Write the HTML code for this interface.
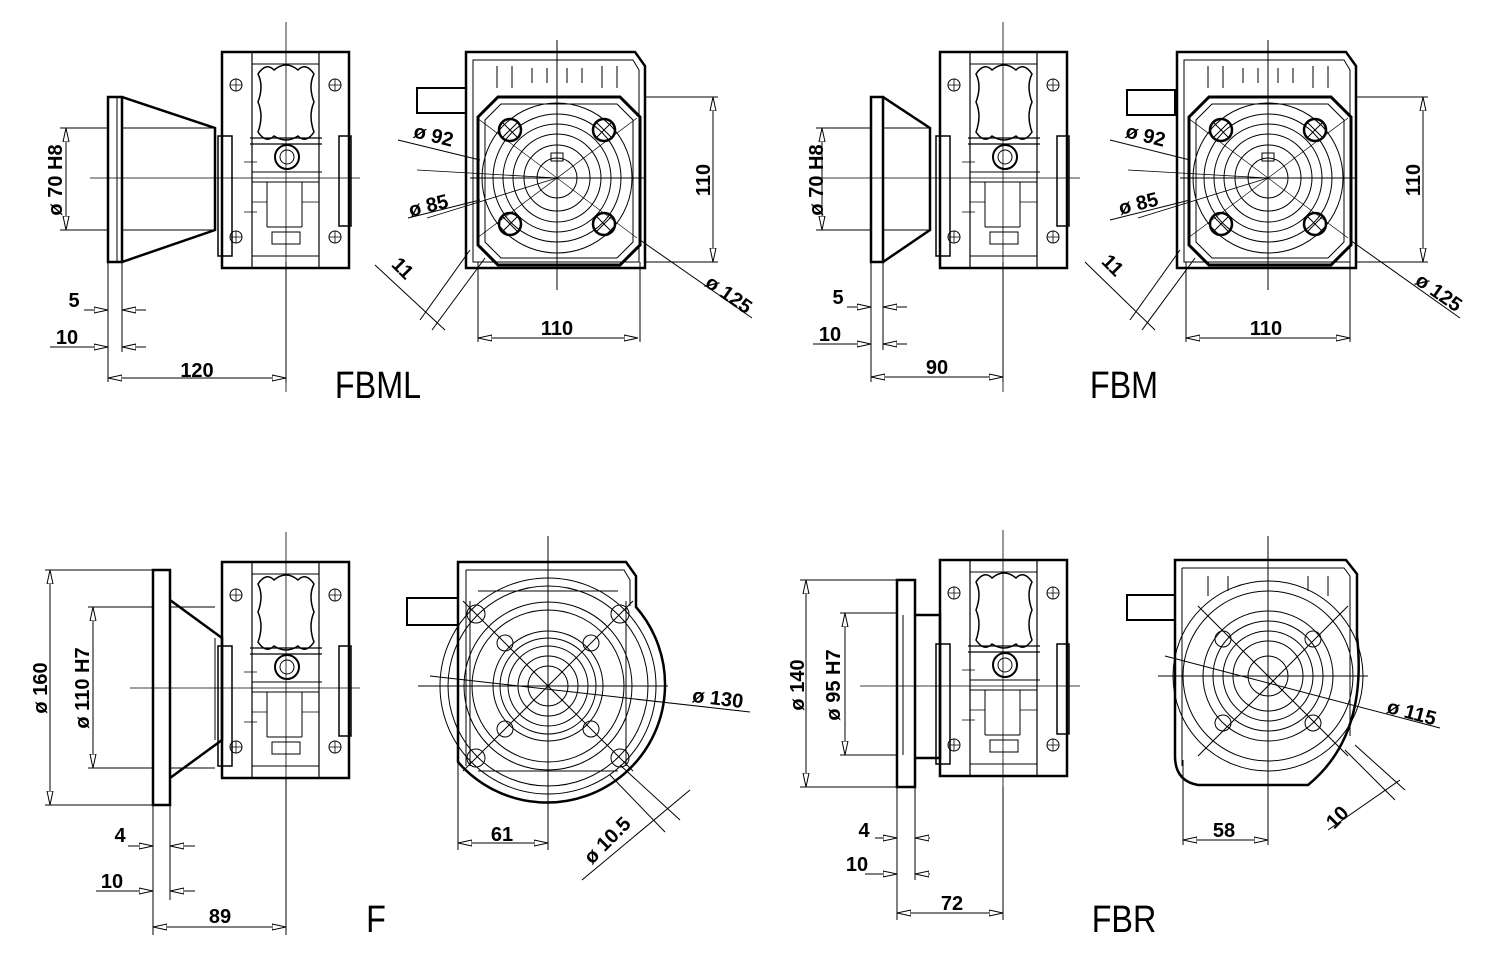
<!DOCTYPE html>
<html><head><meta charset="utf-8"><style>
html,body{margin:0;padding:0;background:#fff}
svg{display:block}
.d{font-family:"Liberation Sans",sans-serif;font-weight:bold;font-size:20px;fill:#000}
.t{font-family:"Liberation Sans",sans-serif;font-size:38px;fill:#000}
</style></head><body>
<svg width="1497" height="972" viewBox="0 0 1497 972" xmlns="http://www.w3.org/2000/svg">
<defs>
<marker id="a" viewBox="0 0 14 7" refX="14" refY="3.5" markerWidth="14" markerHeight="7" markerUnits="userSpaceOnUse" orient="auto"><path d="M0,0.5 L14,3.5 L0,6.5 Z" fill="#fff" stroke="#000" stroke-width="1"/></marker>
<g id="side" fill="none" stroke="#000">
 <rect x="0" y="0" width="127" height="216" stroke-width="2.5"/>
 <path d="M30,0V216M97,0V216" stroke-width="1.2"/>
 <path d="M30,12H97M30,204H97" stroke-width="1"/>
 <circle cx="14" cy="33" r="6"/><circle cx="113" cy="33" r="6"/><circle cx="14" cy="185" r="6"/><circle cx="113" cy="185" r="6"/>
 <path d="M8,33H20M14,27V39M107,33H119M113,27V39M8,185H20M14,179V191M107,185H119M113,179V191" stroke-width=".8"/>
 <path d="M36,22 Q44,10 52,18 Q64,8 76,18 Q84,10 92,22 Q86,34 92,50 Q86,64 92,80 Q84,92 76,84 Q64,92 52,84 Q44,92 36,80 Q42,64 36,50 Q42,34 36,22Z" stroke-width="1.5"/>
 <path d="M28,86H100M28,92H100" stroke-width="1.3"/>
 <rect x="-4" y="84" width="14" height="120" stroke-width="1.5"/>
 <rect x="117" y="84" width="12" height="90" stroke-width="1.5"/>
 <circle cx="65" cy="105" r="12" stroke-width="2"/><circle cx="65" cy="105" r="7"/>
 <path d="M30,120H100M30,130H97M45,130V175M80,130V175M45,175H80M50,180H78V192H50Z" stroke-width="1"/>
 <path d="M30,150H45M80,150H97M22,110H35M22,160H35" stroke-width=".8"/>
</g>
<g id="sq" fill="none" stroke="#000">
 <path d="M-91,-126H78L88,-112V90H-91Z" stroke-width="2.5"/>
 <path d="M-84,-118H76L82,-108V84H-84Z" stroke-width="1"/>
 <path d="M-79,-61L-59,-81H63L83,-61V67L63,87H-59L-79,67Z" stroke-width="3"/>
 <path d="M-72,-58L-56,-74H60L76,-58V64L60,80H-56L-72,64Z" stroke-width="1"/>
 <circle r="75"/><circle r="64"/><circle r="54"/><circle r="44"/><circle r="33"/><circle r="20"/>
 <rect x="-6" y="-25" width="12" height="8"/>
 <circle cx="-47" cy="-48" r="11" stroke-width="2.5"/><circle cx="47" cy="-48" r="11" stroke-width="2.5"/><circle cx="-47" cy="46" r="11" stroke-width="2.5"/><circle cx="47" cy="46" r="11" stroke-width="2.5"/>
 <path d="M-55,-56L-39,-40M-55,-40L-39,-56M39,-56L55,-40M39,-40L55,-56M-55,38L-39,54M-55,54L-39,38M39,38L55,54M39,54L55,38" stroke-width="1"/>
 <path d="M-60,-112V-90M-45,-112V-90M-25,-110V-95M-10,-110V-95M10,-110V-95M25,-110V-95M45,-112V-90M60,-112V-90" stroke-width="1"/>
 <path d="M-80,-60L80,60M-80,60L80,-60" stroke-width=".7"/>
 <path d="M-140,-8L0,0M-130,40L0,0" stroke-width=".8"/>
</g>
</defs>
<g stroke="#000" stroke-width="1" fill="none">
<!-- FBML -->
<use href="#side" x="222" y="52"/>
<path d="M108,97H122V262H108Z M122,97L215,128V230L122,262" stroke-width="2.5"/>
<path d="M122,128H215M122,230H215M117,97V262" stroke-width="1"/>
<path d="M286,22V392M90,178H360" stroke-width=".8"/>
<path d="M417,88H466V113H417Z" stroke-width="2"/>
<use href="#sq" x="557" y="178"/>
<path d="M557,40V290M470,178H645M478,262V342M640,262V342M645,97H718M645,262H718M60,128H108M60,230H108M108,262V382M122,262V352M286,262V382"/>
<g marker-end="url(#a)">
<path d="M713,180V97"/><path d="M713,180V262"/>
<path d="M558,338H478"/><path d="M558,338H638"/>
<path d="M66,180V128"/><path d="M66,180V230"/>
<path d="M197,378H108"/><path d="M197,378H286"/>
<path d="M84,310H108"/><path d="M146,310H122"/><path d="M50,347H108"/><path d="M146,347H122"/>
</g>
<path d="M640,240L752,318M398,140L480,160M408,218L480,200M375,265L445,330M470,250L420,320M485,258L432,330"/>
<!-- FBM -->
<use href="#side" x="940" y="52"/>
<path d="M871,97H883V262H871Z M883,97L930,128V230L883,262" stroke-width="2.5"/>
<path d="M883,128H930M883,230H930" stroke-width="1"/>
<path d="M1003,22V392M820,178H1080" stroke-width=".8"/>
<path d="M1127,90H1175V115H1127Z" stroke-width="2"/>
<use href="#sq" x="1268" y="178"/>
<path d="M1268,40V290M1180,178H1357M1186,262V342M1350,262V342M1357,97H1428M1357,262H1428M816,128H871M816,230H871M871,262V382M883,262V350M1003,262V382"/>
<g marker-end="url(#a)">
<path d="M1423,180V97"/><path d="M1423,180V262"/>
<path d="M1268,338H1186"/><path d="M1268,338H1350"/>
<path d="M822,180V128"/><path d="M822,180V230"/>
<path d="M937,377H871"/><path d="M937,377H1003"/>
<path d="M847,307H871"/><path d="M907,307H883"/><path d="M813,344H871"/><path d="M907,344H883"/>
</g>
<path d="M1350,240L1460,318M1110,140L1190,160M1110,220L1190,200M1085,262L1155,330M1180,250L1130,320M1195,258L1142,330"/>
<!-- F -->
<use href="#side" x="222" y="562"/>
<path d="M153,570H170V805H153Z M170,600L222,638V740L170,778" stroke-width="2.5"/>
<path d="M170,607H215M170,768H215M215,638V740" stroke-width="1"/>
<path d="M286,532V935M130,688H360" stroke-width=".8"/>
<path d="M407,598H458V625H407Z" stroke-width="2"/>
<g transform="translate(548,686)">
 <path d="M-90,-124H78L88,-110V-79A118,118 0 1 1 -90,76Z" stroke-width="2.5"/>
 <path d="M-82,-116H76L82,-106V-80M-82,-116V80"/>
 <circle r="108"/><circle r="100"/><circle r="84"/><circle r="76"/><circle r="55"/><circle r="48"/><circle r="40"/><circle r="30"/><circle r="20"/>
 <path d="M-70,-95H70M-70,85H70M-78,-85V80M78,-85V80"/>
 <circle cx="-43" cy="-43" r="8"/><circle cx="43" cy="-43" r="8"/><circle cx="-43" cy="43" r="8"/><circle cx="43" cy="43" r="8"/>
 <circle cx="-72" cy="-72" r="9"/><circle cx="72" cy="-72" r="9"/><circle cx="-72" cy="72" r="9"/><circle cx="72" cy="72" r="9"/>
 <path d="M-85,-85L85,85M-85,85L85,-85M0,-150V160M-130,0H120"/>
</g>
<path d="M458,760V850M548,800V850M45,570H153M45,805H153M88,607H153M88,768H153M153,805V935M170,805V900M286,778V935"/>
<g marker-end="url(#a)">
<path d="M50,688V570"/><path d="M50,688V805"/>
<path d="M93,688V607"/><path d="M93,688V768"/>
<path d="M503,843H458"/><path d="M503,843H548"/>
<path d="M220,927H153"/><path d="M220,927H286"/>
<path d="M128,846H153"/><path d="M195,846H170"/><path d="M96,891H153"/><path d="M195,891H170"/>
</g>
<path d="M430,676L750,712M620,765L680,820M610,775L665,832M582,880L690,790"/>
<!-- FBR -->
<use href="#side" x="940" y="560"/>
<path d="M897,580H915V787H897Z M915,615H940V758H915" stroke-width="2.5"/>
<path d="M903,615V755" stroke-width="1"/>
<path d="M1003,530V920M860,686H1080" stroke-width=".8"/>
<path d="M1127,595H1175V620H1127Z" stroke-width="2"/>
<g transform="translate(1268,676)">
 <path d="M-93,-116H78L89,-102V-40Q100,60 40,109H-70Q-93,105 -93,80Z" stroke-width="2.5"/>
 <path d="M-86,-108H76L82,-100V60M-86,-108V90"/>
 <circle r="95"/><circle r="85"/><circle r="65"/><circle r="55"/><circle r="45"/><circle r="35"/><circle r="20"/>
 <circle cx="-45" cy="-37" r="8"/><circle cx="45" cy="-37" r="8"/><circle cx="-45" cy="47" r="8"/><circle cx="45" cy="47" r="8"/>
 <path d="M-70,-70L80,80M-70,80L80,-70M0,-140V120M-110,0H100M-60,-100V-80M-40,-100V-85M40,-100V-85M60,-100V-80"/>
</g>
<path d="M1183,760V845M1268,780V845M800,580H897M800,787H897M840,613H897M840,755H897M897,787V920M915,787V880M1003,787V920"/>
<g marker-end="url(#a)">
<path d="M806,684V580"/><path d="M806,684V787"/>
<path d="M845,684V613"/><path d="M845,684V755"/>
<path d="M1225,840H1183"/><path d="M1225,840H1268"/>
<path d="M950,913H897"/><path d="M950,913H1003"/>
<path d="M875,838H897"/><path d="M930,838H915"/><path d="M865,874H897"/><path d="M930,874H915"/>
</g>
<path d="M1165,656L1440,728M1345,750L1395,800M1355,745L1405,790M1328,830L1400,780"/>
</g>
<!-- labels -->
<g class="d">
<text x="62" y="180" transform="rotate(-90 62 180)" text-anchor="middle">ø 70 H8</text>
<text x="74" y="307" text-anchor="middle">5</text>
<text x="67" y="344" text-anchor="middle">10</text>
<text x="197" y="377" text-anchor="middle">120</text>
<text x="432" y="142" transform="rotate(14 432 142)" text-anchor="middle">ø 92</text>
<text x="430" y="212" transform="rotate(-14 430 212)" text-anchor="middle">ø 85</text>
<text x="398" y="273" transform="rotate(45 398 273)" text-anchor="middle">11</text>
<text x="710" y="180" transform="rotate(-90 710 180)" text-anchor="middle">110</text>
<text x="557" y="335" text-anchor="middle">110</text>
<text x="725" y="300" transform="rotate(35 725 300)" text-anchor="middle">ø 125</text>
<text x="823" y="180" transform="rotate(-90 823 180)" text-anchor="middle">ø 70 H8</text>
<text x="838" y="304" text-anchor="middle">5</text>
<text x="830" y="341" text-anchor="middle">10</text>
<text x="937" y="374" text-anchor="middle">90</text>
<text x="1144" y="142" transform="rotate(14 1144 142)" text-anchor="middle">ø 92</text>
<text x="1140" y="210" transform="rotate(-14 1140 210)" text-anchor="middle">ø 85</text>
<text x="1108" y="270" transform="rotate(45 1108 270)" text-anchor="middle">11</text>
<text x="1420" y="180" transform="rotate(-90 1420 180)" text-anchor="middle">110</text>
<text x="1266" y="335" text-anchor="middle">110</text>
<text x="1435" y="298" transform="rotate(35 1435 298)" text-anchor="middle">ø 125</text>
<text x="47" y="688" transform="rotate(-90 47 688)" text-anchor="middle">ø 160</text>
<text x="89" y="688" transform="rotate(-90 89 688)" text-anchor="middle">ø 110 H7</text>
<text x="120" y="842" text-anchor="middle">4</text>
<text x="112" y="888" text-anchor="middle">10</text>
<text x="220" y="923" text-anchor="middle">89</text>
<text x="717" y="705" transform="rotate(7 717 705)" text-anchor="middle">ø 130</text>
<text x="502" y="841" text-anchor="middle">61</text>
<text x="612" y="845" transform="rotate(-45 612 845)" text-anchor="middle">ø 10.5</text>
<text x="804" y="685" transform="rotate(-90 804 685)" text-anchor="middle">ø 140</text>
<text x="840" y="685" transform="rotate(-90 840 685)" text-anchor="middle">ø 95 H7</text>
<text x="864" y="837" text-anchor="middle">4</text>
<text x="857" y="871" text-anchor="middle">10</text>
<text x="952" y="910" text-anchor="middle">72</text>
<text x="1224" y="837" text-anchor="middle">58</text>
<text x="1410" y="719" transform="rotate(15 1410 719)" text-anchor="middle">ø 115</text>
<text x="1342" y="822" transform="rotate(-45 1342 822)" text-anchor="middle">10</text>
</g>
<g class="t">
<text x="378" y="398" text-anchor="middle" transform="translate(378 0) scale(0.85 1) translate(-378 0)">FBML</text>
<text x="1124" y="398" text-anchor="middle" transform="translate(1124 0) scale(0.85 1) translate(-1124 0)">FBM</text>
<text x="376" y="932" text-anchor="middle" transform="translate(376 0) scale(0.85 1) translate(-376 0)">F</text>
<text x="1124" y="932" text-anchor="middle" transform="translate(1124 0) scale(0.85 1) translate(-1124 0)">FBR</text>
</g>
</svg>
</body></html>
